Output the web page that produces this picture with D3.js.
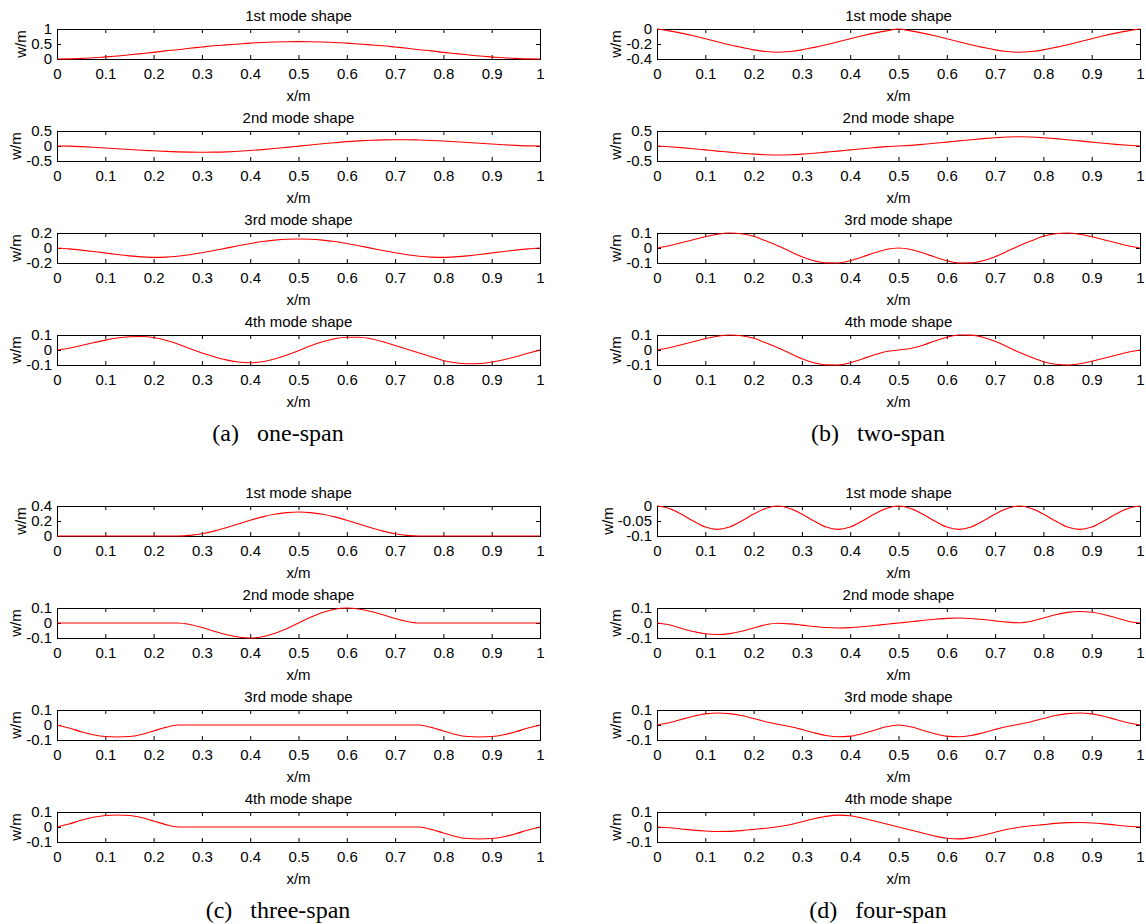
<!DOCTYPE html>
<html>
<head>
<meta charset="utf-8">
<script src="https://cdn.jsdelivr.net/npm/d3@7"></script>
<style>
  body { margin: 0; background: #fff; }
  svg { display: block; }
  .tick text { font-family: "Liberation Sans", Arial, sans-serif; font-size: 15px; fill: #000; }
  .tick line { stroke: #000; }
  .lbl { font-family: "Liberation Sans", Arial, sans-serif; font-size: 15px; fill: #000; }
  .cap { font-family: "Liberation Serif", "Times New Roman", serif; font-size: 24px; fill: #000; white-space: pre; }
</style>
</head>
<body>
<div id="chart"></div>
<script>
// sample positions along the beam (m)
const xs = [0, 0.025, 0.05, 0.075, 0.1, 0.125, 0.15, 0.175, 0.2, 0.225, 0.25, 0.275, 0.3, 0.325, 0.35, 0.375, 0.4, 0.425, 0.45, 0.475, 0.5,
            0.525, 0.55, 0.575, 0.6, 0.625, 0.65, 0.675, 0.7, 0.725, 0.75, 0.775, 0.8, 0.825, 0.85, 0.875, 0.9, 0.925, 0.95, 0.975, 1];

// (a) one-span
const oneSpan1 = [0, 0.005, 0.02, 0.04, 0.07, 0.10, 0.14, 0.18, 0.22, 0.27, 0.31, 0.36, 0.40, 0.44, 0.47, 0.50, 0.53, 0.55, 0.565, 0.575, 0.58,
                  0.575, 0.565, 0.55, 0.53, 0.50, 0.47, 0.44, 0.40, 0.36, 0.31, 0.27, 0.22, 0.18, 0.14, 0.10, 0.07, 0.04, 0.02, 0.005, 0];
const oneSpan2 = [0, -0.005, -0.02, -0.04, -0.065, -0.09, -0.115, -0.14, -0.16, -0.18, -0.195, -0.205, -0.21, -0.205, -0.195, -0.175, -0.15, -0.12, -0.085, -0.045, -0.005,
                  0.035, 0.075, 0.11, 0.145, 0.17, 0.19, 0.205, 0.21, 0.21, 0.2, 0.185, 0.165, 0.14, 0.115, 0.09, 0.065, 0.04, 0.02, 0.005, 0];
const oneSpan3 = [0, -0.012, -0.028, -0.046, -0.066, -0.087, -0.105, -0.118, -0.125, -0.122, -0.11, -0.09, -0.064, -0.034, -0.002, 0.03, 0.06, 0.086, 0.105, 0.117, 0.12,
                  0.117, 0.105, 0.086, 0.06, 0.03, -0.002, -0.034, -0.064, -0.09, -0.11, -0.122, -0.125, -0.118, -0.105, -0.087, -0.066, -0.046, -0.028, -0.012, 0];
const oneSpan4 = [0, 0.012, 0.03, 0.048, 0.066, 0.08, 0.088, 0.09, 0.083, 0.065, 0.04, 0.01, -0.02, -0.045, -0.066, -0.08, -0.085, -0.078, -0.06, -0.035, -0.005,
                  0.028, 0.055, 0.075, 0.085, 0.085, 0.075, 0.055, 0.03, 0.005, -0.02, -0.045, -0.07, -0.085, -0.092, -0.09, -0.08, -0.065, -0.045, -0.022, 0];

// (b) two-span
const twoSpan1 = [0, -0.025, -0.055, -0.09, -0.13, -0.17, -0.21, -0.245, -0.278, -0.3, -0.31, -0.3, -0.278, -0.245, -0.21, -0.17, -0.13, -0.09, -0.055, -0.025, 0,
                  -0.025, -0.055, -0.09, -0.13, -0.17, -0.21, -0.245, -0.278, -0.3, -0.31, -0.3, -0.278, -0.245, -0.21, -0.17, -0.13, -0.09, -0.055, -0.025, 0];
const twoSpan2 = [0, -0.025, -0.055, -0.09, -0.13, -0.17, -0.205, -0.24, -0.27, -0.292, -0.3, -0.292, -0.27, -0.24, -0.205, -0.17, -0.13, -0.09, -0.055, -0.022, 0,
                  0.022, 0.055, 0.09, 0.13, 0.17, 0.21, 0.245, 0.275, 0.3, 0.31, 0.3, 0.275, 0.245, 0.21, 0.17, 0.13, 0.09, 0.055, 0.025, 0];
const twoSpan3 = [0, 0.015, 0.035, 0.055, 0.075, 0.092, 0.1, 0.095, 0.078, 0.048, 0.015, -0.022, -0.058, -0.085, -0.099, -0.1, -0.085, -0.06, -0.032, -0.01, 0,
                  -0.01, -0.032, -0.06, -0.085, -0.1, -0.099, -0.085, -0.058, -0.022, 0.015, 0.048, 0.078, 0.095, 0.1, 0.092, 0.075, 0.055, 0.035, 0.015, 0];
const twoSpan4 = [0, 0.015, 0.035, 0.055, 0.075, 0.092, 0.1, 0.095, 0.078, 0.048, 0.015, -0.022, -0.058, -0.085, -0.099, -0.1, -0.085, -0.06, -0.032, -0.01, 0,
                  0.01, 0.032, 0.06, 0.085, 0.1, 0.099, 0.085, 0.058, 0.022, -0.015, -0.048, -0.078, -0.095, -0.1, -0.092, -0.075, -0.055, -0.035, -0.015, 0];

// (c) three-span
const threeSpan1 = [0, 0, 0, 0, 0, 0, 0, 0, 0, 0, 0, 0.008, 0.03, 0.065, 0.11, 0.16, 0.21, 0.255, 0.29, 0.312, 0.32,
                    0.312, 0.29, 0.255, 0.21, 0.16, 0.11, 0.065, 0.03, 0.008, 0, 0, 0, 0, 0, 0, 0, 0, 0, 0, 0];
const threeSpan2 = [0, 0, 0, 0, 0, 0, 0, 0, 0, 0, 0, -0.01, -0.03, -0.055, -0.077, -0.093, -0.1, -0.092, -0.07, -0.038, 0,
                    0.038, 0.07, 0.092, 0.1, 0.093, 0.077, 0.055, 0.03, 0.01, 0, 0, 0, 0, 0, 0, 0, 0, 0, 0, 0];
const threeSpan3 = [0, -0.02, -0.045, -0.065, -0.077, -0.08, -0.077, -0.063, -0.04, -0.016, 0, 0, 0, 0, 0, 0, 0, 0, 0, 0, 0,
                    0, 0, 0, 0, 0, 0, 0, 0, 0, 0, -0.016, -0.04, -0.063, -0.077, -0.08, -0.077, -0.065, -0.045, -0.02, 0];
const threeSpan4 = [0, 0.02, 0.045, 0.065, 0.077, 0.08, 0.077, 0.063, 0.04, 0.016, 0, 0, 0, 0, 0, 0, 0, 0, 0, 0, 0,
                    0, 0, 0, 0, 0, 0, 0, 0, 0, 0, -0.016, -0.04, -0.063, -0.077, -0.08, -0.077, -0.065, -0.045, -0.02, 0];

// (d) four-span
const fourSpan1 = [0, -0.008, -0.027, -0.05, -0.07, -0.078, -0.07, -0.05, -0.027, -0.008, 0, -0.008, -0.027, -0.05, -0.07, -0.078, -0.07, -0.05, -0.027, -0.008, 0,
                   -0.008, -0.027, -0.05, -0.07, -0.078, -0.07, -0.05, -0.027, -0.008, 0, -0.008, -0.027, -0.05, -0.07, -0.078, -0.07, -0.05, -0.027, -0.008, 0];
const fourSpan2 = [0, -0.012, -0.035, -0.057, -0.072, -0.077, -0.071, -0.055, -0.033, -0.012, -0.002, -0.006, -0.014, -0.023, -0.03, -0.033, -0.031, -0.025, -0.017, -0.008, 0,
                   0.008, 0.017, 0.025, 0.031, 0.033, 0.03, 0.023, 0.014, 0.006, 0.002, 0.012, 0.033, 0.055, 0.071, 0.077, 0.072, 0.057, 0.035, 0.012, 0];
const fourSpan3 = [0, 0.015, 0.037, 0.058, 0.074, 0.08, 0.076, 0.063, 0.043, 0.022, 0.005, -0.01, -0.03, -0.052, -0.07, -0.078, -0.074, -0.058, -0.035, -0.012, 0,
                   -0.012, -0.035, -0.058, -0.074, -0.078, -0.07, -0.052, -0.03, -0.01, 0.005, 0.022, 0.043, 0.063, 0.076, 0.08, 0.074, 0.058, 0.037, 0.015, 0];
const fourSpan4 = [0, -0.005, -0.013, -0.021, -0.027, -0.03, -0.029, -0.024, -0.016, -0.008, 0.002, 0.015, 0.035, 0.055, 0.071, 0.079, 0.075, 0.06, 0.04, 0.02, 0,
                   -0.02, -0.04, -0.06, -0.075, -0.079, -0.071, -0.055, -0.035, -0.015, -0.002, 0.008, 0.016, 0.024, 0.029, 0.03, 0.027, 0.021, 0.013, 0.005, 0];

// labels and ticks
const modeTitles = ["1st mode shape", "2nd mode shape", "3rd mode shape", "4th mode shape"];
const xTicks = [0, 0.1, 0.2, 0.3, 0.4, 0.5, 0.6, 0.7, 0.8, 0.9, 1];
const yTicksOne = [[0, 0.5, 1], [-0.5, 0, 0.5], [-0.2, 0, 0.2], [-0.1, 0, 0.1]];
const yTicksTwo = [[-0.4, -0.2, 0], [-0.5, 0, 0.5], [-0.1, 0, 0.1], [-0.1, 0, 0.1]];
const yTicksThree = [[0, 0.2, 0.4], [-0.1, 0, 0.1], [-0.1, 0, 0.1], [-0.1, 0, 0.1]];
const yTicksFour = [[-0.1, -0.05, 0], [-0.1, 0, 0.1], [-0.1, 0, 0.1], [-0.1, 0, 0.1]];
const captions = ["(a)   one-span", "(b)   two-span", "(c)   three-span", "(d)   four-span"];

const width = 1146, height = 924;

const panels = [
    {left: 57,  top: 29,  caption: captions[0], series: [oneSpan1, oneSpan2, oneSpan3, oneSpan4], yTicks: yTicksOne},
    {left: 657, top: 29,  caption: captions[1], series: [twoSpan1, twoSpan2, twoSpan3, twoSpan4], yTicks: yTicksTwo},
    {left: 57,  top: 506, caption: captions[2], series: [threeSpan1, threeSpan2, threeSpan3, threeSpan4], yTicks: yTicksThree},
    {left: 657, top: 506, caption: captions[3], series: [fourSpan1, fourSpan2, fourSpan3, fourSpan4], yTicks: yTicksFour}
];

const plotW = 483, plotH = 30, rowGap = 102;

const svg = d3.select("#chart").append("svg")
    .attr("width", width)
    .attr("height", height);

panels.forEach(function(p) {
    p.series.forEach(function(vals, i) {
        let top = p.top + i * rowGap;
        let ticks = p.yTicks[i];

        let x = d3.scaleLinear().domain([0, 1]).range([p.left, p.left + plotW]);
        let y = d3.scaleLinear().domain(d3.extent(ticks)).range([top + plotH, top]);

        let g = svg.append("g");

        // axes, ticks pointing inward like matlab
        g.append("g")
            .attr("transform", "translate(0," + (top + plotH) + ")")
            .call(d3.axisBottom(x).tickValues(xTicks).tickSizeInner(-4).tickSizeOuter(0).tickPadding(9).tickFormat(d => String(d)))
            .call(a => a.select(".domain").remove());
        g.append("g")
            .attr("transform", "translate(0," + top + ")")
            .call(d3.axisTop(x).tickValues(xTicks).tickSizeInner(-4).tickSizeOuter(0).tickFormat(""))
            .call(a => a.select(".domain").remove());
        let yAx = g.append("g")
            .attr("transform", "translate(" + p.left + ",0)")
            .call(d3.axisLeft(y).tickValues(ticks).tickSizeInner(-4).tickSizeOuter(0).tickPadding(5).tickFormat(d => String(d)))
            .call(a => a.select(".domain").remove());
        g.append("g")
            .attr("transform", "translate(" + (p.left + plotW) + ",0)")
            .call(d3.axisRight(y).tickValues(ticks).tickSizeInner(-4).tickSizeOuter(0).tickFormat(""))
            .call(a => a.select(".domain").remove());

        g.selectAll(".tick text").attr("font-family", null).attr("font-size", null);

        // box
        g.append("rect")
            .attr("x", p.left + 0.5)
            .attr("y", top + 0.5)
            .attr("width", plotW)
            .attr("height", plotH)
            .attr("fill", "none")
            .attr("stroke", "#000")
            .attr("stroke-width", 1);

        // mode shape line
        let line = d3.line()
            .x((d, k) => x(xs[k]))
            .y(d => y(d))
            .curve(d3.curveMonotoneX);
        g.append("path")
            .datum(vals)
            .attr("d", line)
            .attr("fill", "none")
            .attr("stroke", "#ff0000")
            .attr("stroke-width", 1.1);

        // titles
        g.append("text")
            .attr("class", "lbl")
            .attr("x", p.left + plotW / 2)
            .attr("y", top - 8)
            .attr("text-anchor", "middle")
            .text(modeTitles[i]);
        g.append("text")
            .attr("class", "lbl")
            .attr("x", p.left + plotW / 2)
            .attr("y", top + plotH + 42)
            .attr("text-anchor", "middle")
            .text("x/m");

        // y label sits just left of the widest tick label
        let bb = yAx.node().getBBox();
        g.append("text")
            .attr("class", "lbl")
            .attr("transform", "translate(" + (p.left + bb.x - 5) + "," + (top + plotH / 2) + ") rotate(-90)")
            .attr("text-anchor", "middle")
            .text("w/m");
    });

    svg.append("text")
        .attr("class", "cap")
        .attr("x", p.left + 221)
        .attr("y", p.top + 412)
        .attr("text-anchor", "middle")
        .text(p.caption);
});
</script>
</body>
</html>
